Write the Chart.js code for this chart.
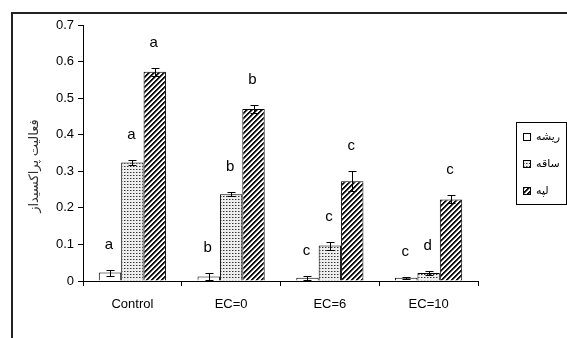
<!DOCTYPE html>
<html>
<head>
<meta charset="utf-8">
<script src="https://cdn.jsdelivr.net/npm/chart.js@4/dist/chart.umd.min.js"></script>
<style>
  html, body { margin: 0; padding: 0; background: #fff; }
  #wrap { width: 567px; height: 338px; position: relative; }
</style>
</head>
<body>
<div id="wrap"><canvas id="chart" width="567" height="338"></canvas></div>
<script>
const categories = ["Control", "EC=0", "EC=6", "EC=10"];
const seriesNames = ["ریشه", "ساقه", "لپه"];
const rootValues = [0.023, 0.012, 0.009, 0.009];
const stemValues = [0.324, 0.237, 0.097, 0.022];
const leafValues = [0.572, 0.47, 0.273, 0.223];
const rootErrors = [0.008, 0.01, 0.006, 0.003];
const stemErrors = [0.008, 0.005, 0.011, 0.005];
const leafErrors = [0.011, 0.011, 0.027, 0.011];
const rootLetters = ["a", "b", "c", "c"];
const stemLetters = ["a", "b", "c", "d"];
const leafLetters = ["a", "b", "c", "c"];
const yTicks = [0, 0.1, 0.2, 0.3, 0.4, 0.5, 0.6, 0.7];
const yTitle = "فعالیت پراکسیداز";

const FONT = "'Liberation Sans', Arial, 'DejaVu Sans', sans-serif";

function makePattern(size, paint) {
  const c = document.createElement("canvas");
  c.width = size; c.height = size;
  const g = c.getContext("2d");
  paint(g);
  return g.createPattern(c, "repeat");
}

// dotted fill for stem
const dotPattern = makePattern(3, g => {
  g.fillStyle = "#eeeeee";
  g.fillRect(0, 0, 3, 3);
  g.fillStyle = "#333333";
  g.fillRect(1, 1, 1, 1);
  g.fillStyle = "#9a9a9a";
  g.fillRect(2, 1, 1, 1);
});

// diagonal hatch for leaf
const hatchPattern = makePattern(5, g => {
  for (let x = 0; x < 5; x++) {
    for (let y = 0; y < 5; y++) {
      const k = (x + y) % 5;
      g.fillStyle = k < 2 ? "#111111" : (k === 2 ? "#888888" : "#ffffff");
      g.fillRect(x, y, 1, 1);
    }
  }
});

const errors = [rootErrors, stemErrors, leafErrors];
const letters = [rootLetters, stemLetters, leafLetters];

const extrasPlugin = {
  id: "extras",
  beforeDraw(chart) {
    const ctx = chart.ctx;
    ctx.save();
    ctx.strokeStyle = "#222";
    ctx.lineWidth = 2;
    ctx.beginPath();
    ctx.moveTo(12, chart.height + 5);
    ctx.lineTo(12, 13);
    ctx.lineTo(chart.width + 5, 13);
    ctx.stroke();
    ctx.restore();
  },
  afterDatasetsDraw(chart) {
    const ctx = chart.ctx;
    const y = chart.scales.y;
    ctx.save();
    chart.data.datasets.forEach((ds, di) => {
      const meta = chart.getDatasetMeta(di);
      meta.data.forEach((bar, i) => {
        const v = ds.data[i];
        const e = errors[di][i];
        const top = Math.round(y.getPixelForValue(v + e)) + 0.5;
        const bot = Math.round(y.getPixelForValue(Math.max(v - e, 0))) + 0.5;
        const x = Math.round(bar.x) + 0.5;
        ctx.strokeStyle = "#000";
        ctx.lineWidth = 1;
        ctx.beginPath();
        ctx.moveTo(x, top); ctx.lineTo(x, bot);
        ctx.moveTo(x - 4, top); ctx.lineTo(x + 4, top);
        ctx.moveTo(x - 4, bot); ctx.lineTo(x + 4, bot);
        ctx.stroke();
        ctx.fillStyle = "#000";
        ctx.font = "15px " + FONT;
        ctx.textAlign = "center";
        ctx.textBaseline = "middle";
        ctx.fillText(letters[di][i], bar.x - 1, top - 26);
      });
    });

    // y axis title
    ctx.save();
    ctx.translate(34, 166);
    ctx.rotate(-Math.PI / 2);
    ctx.fillStyle = "#333";
    ctx.font = "13px " + FONT;
    ctx.textAlign = "center";
    ctx.textBaseline = "middle";
    ctx.fillText(yTitle, 0, 0);
    ctx.restore();

    // legend
    ctx.strokeStyle = "#000";
    ctx.lineWidth = 1;
    ctx.strokeRect(516.5, 122.5, 50, 82);
    const rows = [137, 164, 191];
    chart.data.datasets.forEach((ds, di) => {
      const cy = rows[di];
      ctx.fillStyle = ds.backgroundColor;
      ctx.fillRect(523, cy - 4, 8, 8);
      ctx.strokeStyle = "#000";
      ctx.strokeRect(523.5, cy - 3.5, 7, 7);
      ctx.fillStyle = "#000";
      ctx.font = "11px " + FONT;
      ctx.textAlign = "left";
      ctx.textBaseline = "middle";
      ctx.fillText(ds.label, 536, cy);
    });
    ctx.restore();
  }
};

new Chart(document.getElementById("chart"), {
  type: "bar",
  data: {
    labels: categories,
    datasets: [
      { label: seriesNames[0], data: rootValues, backgroundColor: "#ffffff", borderColor: "#000", borderWidth: 1 },
      { label: seriesNames[1], data: stemValues, backgroundColor: dotPattern, borderColor: "#000", borderWidth: 1 },
      { label: seriesNames[2], data: leafValues, backgroundColor: hatchPattern, borderColor: "#000", borderWidth: 1 }
    ]
  },
  options: {
    responsive: false,
    animation: false,
    devicePixelRatio: 1,
    layout: { padding: { left: 0, top: 25, right: 89, bottom: 0 } },
    datasets: { bar: { categoryPercentage: 0.68, barPercentage: 1 } },
    plugins: {
      legend: { display: false },
      tooltip: { enabled: false }
    },
    scales: {
      x: {
        afterFit: s => { s.height = 57; },
        grid: { drawOnChartArea: false, color: "#000", tickLength: 5, offset: true },
        border: { color: "#000", width: 1 },
        ticks: { color: "#000", font: { family: FONT, size: 13 }, padding: 11, maxRotation: 0 }
      },
      y: {
        min: 0,
        max: 0.7,
        afterFit: s => { s.width = 83; },
        afterBuildTicks: s => { s.ticks = yTicks.map(v => ({ value: v })); },
        grid: { drawOnChartArea: false, color: "#000", tickLength: 5 },
        border: { color: "#000", width: 1 },
        ticks: {
          color: "#000",
          font: { family: FONT, size: 13 },
          padding: 4,
          callback: v => String(Math.round(v * 10) / 10)
        }
      }
    }
  },
  plugins: [extrasPlugin]
});
</script>
</body>
</html>
